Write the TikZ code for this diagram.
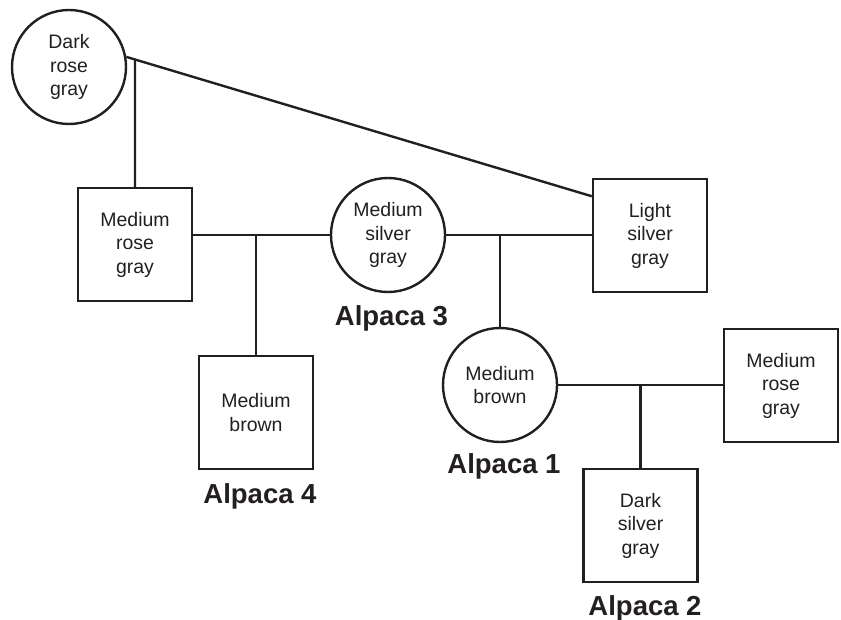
\documentclass[tikz,border=0pt]{standalone}
\usepackage{fontspec}
\setmainfont{Liberation Sans}
\usetikzlibrary{calc}
\definecolor{ink}{HTML}{231F20}
\begin{document}
\begin{tikzpicture}[x=1pt,y=-1pt,
  link/.style={line width=2.4pt,draw=ink},
  animal/.style={draw=ink,line width=2.4pt,text=ink,align=center,inner sep=0pt,
    font=\fontsize{19.5}{23.5}\selectfont},
  female/.style={animal,circle,minimum size=114pt},
  male/.style={animal,rectangle,minimum width=114pt,minimum height=113pt},
  tag/.style={anchor=base,text=ink,font=\fontsize{27.5}{30}\selectfont\bfseries}]
\useasboundingbox (0,0) rectangle (841,620);
% nodes
\node[female] (DRG) at (69,67) {Dark\\rose\\gray};
\node[male] (MRGa) at (135,244.5) {Medium\\rose\\gray};
\node[female] (MSG) at (388,235) {Medium\\silver\\gray};
\node[male] (LSG) at (650,235.5) {Light\\silver\\gray};
\node[male] (MBb) at (256,412.5) {Medium\\brown};
\node[female] (MBc) at (500,385) {Medium\\brown};
\node[male] (MRGb) at (781,385.5) {Medium\\rose\\gray};
\node[male] (DSG) at (640.5,525.5) {Dark\\silver\\gray};
% labels
\node[tag] (A3) at (391.5,326) {Alpaca 3};
\node[tag] (A4) at (260,503) {Alpaca 4};
\node[tag] (A1) at (504,473) {Alpaca 1};
\node[tag] (A2) at (645,615) {Alpaca 2};
% connectors
\coordinate (lsgin) at ($(LSG.north west)!0.16!(LSG.south west)$);
\draw[link] (DRG.10) -- (lsgin);
\draw[link] (MRGa.north) -- (intersection of DRG.10--lsgin and MRGa.north--MRGa.center);
\draw[link] (MSG.west) -- (MSG.west -| MRGa.east);
\draw[link] (MBb.north |- MSG.west) -- (MBb.north);
\draw[link] (MSG.east) -- (MSG.east -| LSG.west);
\draw[link] (MBc.north |- MSG.east) -- (MBc.north);
\draw[link] (MBc.east) -- (MBc.east -| MRGb.west);
\draw[link] (DSG.north |- MBc.east) -- (DSG.north);
\end{tikzpicture}
\end{document}
